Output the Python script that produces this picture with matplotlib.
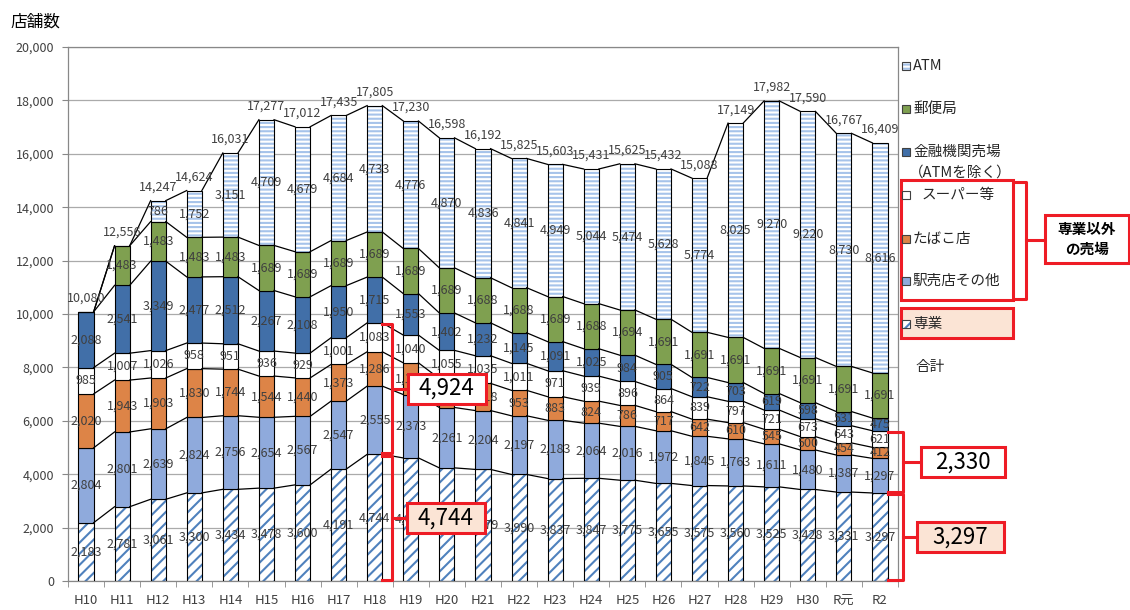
import numpy as np
import matplotlib.pyplot as plt
from matplotlib.patches import Rectangle
from matplotlib.ticker import FuncFormatter

plt.rcParams['font.family'] = ['Noto Sans CJK JP', 'DejaVu Sans']
plt.rcParams['hatch.linewidth'] = 1.5

# 年度
years = ['H10', 'H11', 'H12', 'H13', 'H14', 'H15', 'H16', 'H17', 'H18', 'H19',
         'H20', 'H21', 'H22', 'H23', 'H24', 'H25', 'H26', 'H27', 'H28', 'H29',
         'H30', 'R元', 'R2']

# 売場別店舗数（下から積み上げ）
senyo    = [2183, 2781, 3061, 3300, 3434, 3478, 3600, 4191, 4744, 4610,
            4237, 4179, 3990, 3837, 3847, 3775, 3655, 3575, 3560, 3525,
            3428, 3331, 3297]
ekibai   = [2804, 2801, 2639, 2824, 2756, 2654, 2567, 2547, 2555, 2373,
            2261, 2204, 2197, 2183, 2064, 2016, 1972, 1845, 1763, 1611,
            1480, 1387, 1297]
tabako   = [2020, 1943, 1903, 1830, 1744, 1544, 1440, 1373, 1286, 1189,
            1084, 1018, 953, 883, 824, 786, 717, 642, 610, 545,
            500, 454, 412]
super_   = [985, 1007, 1026, 958, 951, 936, 929, 1001, 1083, 1040,
            1055, 1035, 1011, 971, 939, 896, 864, 839, 797, 721,
            673, 643, 621]
kinyu    = [2088, 2541, 3349, 2477, 2512, 2267, 2108, 1950, 1715, 1553,
            1402, 1232, 1145, 1091, 1025, 984, 905, 722, 703, 619,
            598, 531, 475]
yubin    = [0, 1483, 1483, 1483, 1483, 1689, 1689, 1689, 1689, 1689,
            1689, 1688, 1688, 1689, 1688, 1694, 1691, 1691, 1691, 1691,
            1691, 1691, 1691]
atm      = [0, 0, 786, 1752, 3151, 4709, 4679, 4684, 4733, 4776,
            4870, 4836, 4841, 4949, 5044, 5474, 5628, 5774, 8025, 9270,
            9220, 8730, 8616]

RED = '#EE1C25'
PEACH = '#FBE4D5'

# name, values, face, hatch, hatch color
series = [
    ('専業', senyo, 'white', '///', '#4F81BD'),
    ('駅売店その他', ekibai, '#8FAADC', None, None),
    ('たばこ店', tabako, '#DD8447', None, None),
    ('スーパー等', super_, 'white', None, None),
    ('金融機関売場', kinyu, '#416FA8', None, None),
    ('郵便局', yubin, '#7FA050', None, None),
    ('ATM', atm, 'white', '----', '#A6C3EA'),
]

fig = plt.figure(figsize=(11.3, 6.1), dpi=100)
ax = fig.add_axes([68 / 1130, 1 - 581 / 610, 830 / 1130, 534 / 610])

x = np.arange(len(years))
w = 0.42
bottom = np.zeros(len(years))
levels = []
for name, vals, fc, hatch, hc in series:
    vals = np.array(vals, dtype=float)
    if hatch:
        ax.bar(x, vals, w, bottom=bottom, color=fc, edgecolor=hc,
               hatch=hatch, linewidth=0, zorder=2)
        ax.bar(x, vals, w, bottom=bottom, facecolor='none',
               edgecolor='black', linewidth=0.8, zorder=3)
    else:
        ax.bar(x, vals, w, bottom=bottom, color=fc,
               edgecolor='black', linewidth=0.8, zorder=3)
    for xi, v, b0 in zip(x, vals, bottom):
        if v > 0:
            ax.text(xi, b0 + v / 2, f'{int(v):,}', ha='center', va='center',
                    fontsize=9, color='#404040', zorder=4)
    bottom = bottom + vals
    levels.append(bottom.copy())

# 区分線
for lev in levels:
    for i in range(len(x) - 1):
        ax.plot([x[i] + w / 2, x[i + 1] - w / 2], [lev[i], lev[i + 1]],
                color='black', lw=0.9, zorder=3)

# 合計
total = levels[-1]
for xi, t in zip(x, total):
    ax.annotate(f'{int(t):,}', (xi, t), xytext=(0, 5), textcoords='offset points',
                ha='center', va='bottom', fontsize=9, color='#404040', zorder=4)

ax.set_xlim(-0.48, 22.48)
ax.set_ylim(0, 20000)
ax.set_yticks(np.arange(0, 20001, 2000))
ax.yaxis.set_major_formatter(FuncFormatter(lambda v, p: f'{int(v):,}'))
ax.set_xticks(x, years)
ax.set_xticks(np.arange(-0.5, len(years), 1), minor=True)
ax.tick_params(axis='x', which='major', length=0, pad=9, labelsize=9.5, labelcolor='#404040')
ax.tick_params(axis='x', which='minor', length=4, color='#888888')
ax.tick_params(axis='y', length=4, color='#888888', pad=6, labelsize=9, labelcolor='#404040')
ax.grid(axis='y', color='#AAAAAA', lw=0.9, zorder=0)
ax.set_axisbelow(True)
for s in ax.spines.values():
    s.set_color('#888888')
    s.set_linewidth(0.9)

fig.text(10 / 1130, 1 - 22 / 610, '店舗数', fontsize=12, va='center', ha='left')


def bracket(xl, xv, xt, lo, hi, gap=50):
    lo, hi = lo + gap, hi - gap
    ax.plot([xl, xv, xv, xl], [hi, hi, lo, lo], color=RED, lw=2.2,
            clip_on=False, zorder=6, solid_joinstyle='round')
    mid = (lo + hi) / 2
    ax.plot([xv, xt], [mid, mid], color=RED, lw=2.2, clip_on=False, zorder=6)
    return mid


def valbox(x0, y, val, fc, bw=2.16, bh=1120):
    ax.add_patch(Rectangle((x0, y - bh / 2), bw, bh, fc=fc, ec=RED, lw=2.2,
                           clip_on=False, zorder=7))
    ax.text(x0 + bw / 2, y, f'{int(val):,}', ha='center', va='center',
            fontsize=16, zorder=8, clip_on=False)


# H18: 専業とそれ以外
i18 = years.index('H18')
s18 = senyo[i18]
o18 = ekibai[i18] + tabako[i18] + super_[i18]
m = bracket(i18 + w / 2, i18 + 0.48, i18 + 0.95, s18, s18 + o18)
valbox(i18 + 0.92, m, o18, 'white')
m = bracket(i18 + w / 2, i18 + 0.48, i18 + 0.95, 0, s18)
valbox(i18 + 0.89, m, s18, PEACH)

# R2: 専業とそれ以外
ir = years.index('R2')
sr = senyo[ir]
orr = ekibai[ir] + tabako[ir] + super_[ir]
m = bracket(ir + w / 2, ir + 0.65, ir + 1.2, sr, sr + orr)
valbox(ir + 1.14, m, orr, 'white', bw=2.32)
m = bracket(ir + w / 2, ir + 0.65, ir + 1.1, 0, sr)
valbox(ir + 1.03, m, sr, PEACH, bw=2.4)

# 凡例（右側）
ov = fig.add_axes([0, 0, 1, 1])
ov.set_xlim(0, 1130)
ov.set_ylim(610, 0)
ov.axis('off')

ov.add_patch(Rectangle((901, 308), 112, 30, fc=PEACH, ec=RED, lw=2.2, zorder=1))
ov.add_patch(Rectangle((901, 180), 112, 120, fill=False, ec=RED, lw=2.2, zorder=1))
ov.plot([1015, 1026, 1026, 1015], [182, 182, 299, 299], color=RED, lw=2.2,
        solid_joinstyle='round')
ov.plot([1026, 1045], [240, 240], color=RED, lw=2.2)
ov.add_patch(Rectangle((1045, 215), 84, 48, fc='white', ec=RED, lw=2.2, zorder=2))
ov.text(1087, 239, '専業以外\nの売場', ha='center', va='center', fontsize=10.5,
        fontweight='bold', linespacing=1.35, zorder=3)

leg_y = {'ATM': 66, '郵便局': 109, '金融機関売場': 152, 'スーパー等': 195,
         'たばこ店': 239, '駅売店その他': 281, '専業': 324}
for name, vals, fc, hatch, hc in series:
    y = leg_y[name]
    if hatch:
        ov.add_patch(Rectangle((902, y - 4), 8, 8, fc='white', ec=hc,
                               hatch=hatch, lw=0, zorder=3))
        ov.add_patch(Rectangle((902, y - 4), 8, 8, fill=False, ec='#404040',
                               lw=0.8, zorder=4))
    else:
        ov.add_patch(Rectangle((902, y - 4), 8, 8, fc=fc, ec='#404040',
                               lw=0.8, zorder=4))
    tx = 922 if name == 'スーパー等' else 913
    ov.text(tx, y, name, ha='left', va='center', fontsize=10.5, color='#262626',
            zorder=4)
ov.text(909, 173, '（ATMを除く）', ha='left', va='center', fontsize=10.5,
        color='#262626')
ov.text(915, 367, '合計', ha='left', va='center', fontsize=10.5, color='#262626')

fig.savefig('out.png', dpi=100)
